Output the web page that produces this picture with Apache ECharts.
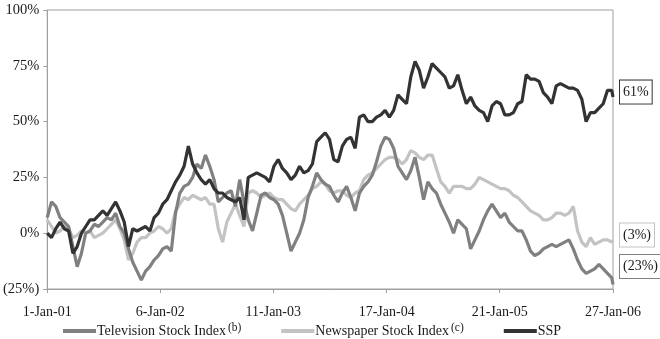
<!DOCTYPE html>
<html>
<head>
<meta charset="utf-8">
<script src="https://cdn.jsdelivr.net/npm/echarts@6/dist/echarts.min.js"></script>
<style>
  html, body { margin: 0; padding: 0; background: #ffffff; }
  #chart { width: 660px; height: 339px; }
</style>
</head>
<body>
<div id="chart"></div>
<script>
// Cumulative total return since 1-Jan-01, sampled every two weeks (last point 27-Jan-06)
const tickLabels = ['1-Jan-01', '6-Jan-02', '11-Jan-03', '17-Jan-04', '21-Jan-05', '27-Jan-06'];
const seriesNames = ['Television Stock Index', 'Newspaper Stock Index', 'SSP'];
const superscripts = { 'Television Stock Index': '(b)', 'Newspaper Stock Index': '(c)' };
const startLabel = '1-Jan-01';
const endLabel = '27-Jan-06';
const stepDays = 14;

const televisionIndex = [
  7, 14, 12, 7, 5, 3, -6, -15, -9, 0, 1, 4, 3, 5, 7, 6, 9, 3, 0, -7,
  -13, -17, -21, -17, -15, -12, -10, -7, -6, -8, 9, 18, 21, 22, 25, 31, 29, 35, 30, 24,
  14, 16, 18, 19, 12, 24, 14, 6, 1, 9, 17, 18, 16, 15, 13, 8, 0, -8, -4, 0,
  6, 16, 21, 27, 24, 22, 21, 17, 14, 18, 21, 16, 10, 18, 21, 23, 26, 32, 39, 43,
  42, 38, 30, 27, 24, 28, 34, 25, 15, 23, 20, 18, 13, 9, 5, 0, 6, 4, 2, -7,
  -3, 1, 6, 10, 13, 10, 7, 9, 5, 3, 1, 1, -3, -8, -10, -9, -7, -6, -5, -6,
  -5, -4, -3, -7, -12, -16, -18, -17, -16, -14, -16, -18, -20, -23
];
const newspaperIndex = [
  6, 3, 0, 1, 3, 2, -2, -1, 1, 0, 1, -2, -1, 0, 2, 4, 6, 2, -3, -12,
  -9, -4, -2, -2, 0, 1, 3, 2, 0, 2, 10, 13, 16, 15, 17, 16, 15, 16, 13, 13,
  2, -4, 5, 9, 13, 8, 3, 18, 19, 18, 16, 17, 18, 16, 15, 15, 13, 11, 10, 13,
  15, 17, 20, 21, 23, 22, 19, 18, 19, 19, 17, 16, 18, 19, 24, 26, 27, 29, 31, 33,
  34, 34, 33, 31, 33, 37, 36, 34, 33, 35, 35, 29, 23, 21, 18, 21, 21, 21, 20, 20,
  22, 25, 24, 23, 22, 21, 20, 20, 19, 17, 16, 14, 12, 10, 9, 8, 6, 6, 7, 9,
  9, 8, 9, 12, 1, -4, -6, -2, -5, -4, -3, -3, -4, -3
];
const sspReturn = [
  0, -2, 2, 5, 2, 1, -9, -6, 0, 3, 6, 6, 8, 10, 8, 11, 14, 10, 5, -6,
  2, 1, 2, 3, 1, 7, 9, 13, 15, 19, 23, 26, 30, 39, 31, 27, 24, 22, 24, 20,
  18, 18, 16, 15, 14, 16, 6, 25, 26, 27, 26, 25, 23, 30, 33, 29, 27, 24, 26, 30,
  27, 28, 31, 41, 43, 45, 42, 33, 32, 39, 42, 43, 38, 52, 53, 50, 50, 52, 53, 55,
  52, 55, 62, 60, 58, 70, 77, 73, 65, 70, 76, 74, 72, 70, 65, 66, 71, 64, 58, 61,
  57, 55, 54, 50, 57, 59, 58, 53, 53, 54, 58, 59, 71, 69, 69, 68, 63, 61, 58, 66,
  67, 66, 65, 65, 64, 60, 50, 54, 54, 56, 58, 64, 64, 61
];

const MONTHS = { Jan: 0, Feb: 1, Mar: 2, Apr: 3, May: 4, Jun: 5, Jul: 6, Aug: 7, Sep: 8, Oct: 9, Nov: 10, Dec: 11 };
const DAY_MS = 86400000;
function parseDay(s) {
  const [d, m, y] = s.split('-');
  return Date.UTC(2000 + Number(y), MONTHS[m], Number(d));
}
// The x axis counts days elapsed since the first observation
const startTime = parseDay(startLabel);
const toDay = t => Math.round((t - startTime) / DAY_MS);
const endDay = toDay(parseDay(endLabel));
const tickDays = tickLabels.map(s => toDay(parseDay(s)));

// Observation days: every two weeks, with the final close on the end date
const days = sspReturn.map((_, i) => (i === sspReturn.length - 1 ? endDay : stepDays * i));

function pct(v) {
  return v < 0 ? '(' + Math.abs(v) + '%)' : v + '%';
}

const FONT = 'Liberation Serif';
const TEXT = '#1a1a1a';
const AXIS = '#a0a0a0';

function makeSeries(name, values, color, labelOffset) {
  return {
    name: name,
    type: 'line',
    data: values.map((v, i) => [days[i], v]),
    showSymbol: false,
    symbol: 'none',
    lineStyle: { color: color, width: 3.2 },
    itemStyle: { color: color },
    endLabel: {
      show: true,
      formatter: p => pct(p.value[1]),
      fontFamily: FONT,
      fontSize: 14,
      color: TEXT,
      backgroundColor: '#ffffff',
      borderColor: color,
      borderWidth: 1,
      padding: [5, 3, 4, 3],
      distance: 7,
      offset: labelOffset
    }
  };
}

const chart = echarts.init(document.getElementById('chart'), null, { renderer: 'canvas' });
chart.setOption({
  animation: false,
  backgroundColor: '#ffffff',
  grid: {
    left: 44, right: 47, top: 10, bottom: 50,
    show: true, borderColor: AXIS, borderWidth: 1, backgroundColor: 'transparent'
  },
  legend: {
    data: seriesNames,
    left: 58,
    top: 317,
    itemWidth: 33,
    itemHeight: 4,
    itemGap: 40,
    icon: 'rect',
    formatter: name => superscripts[name]
      ? '{t|' + name + '}{s|' + superscripts[name] + '}'
      : '{t|' + name + '}',
    textStyle: {
      fontFamily: FONT, fontSize: 14, color: TEXT, padding: [0, 0, 0, -4],
      rich: {
        t: { fontFamily: FONT, fontSize: 14, color: TEXT },
        s: { fontFamily: FONT, fontSize: 11.5, color: TEXT, padding: [0, 0, 6, 2] }
      }
    }
  },
  xAxis: {
    type: 'value',
    min: 0,
    max: endDay,
    axisLine: { show: true, onZero: false, lineStyle: { color: AXIS, width: 1 } },
    axisTick: { show: true, customValues: tickDays, length: 4, lineStyle: { color: AXIS } },
    axisLabel: {
      customValues: tickDays,
      formatter: v => {
        const k = tickDays.indexOf(v);
        return k >= 0 ? tickLabels[k] : '';
      },
      fontFamily: FONT, fontSize: 14, color: TEXT, margin: 16
    },
    splitLine: { show: false }
  },
  yAxis: {
    type: 'value',
    min: -25,
    max: 100,
    interval: 25,
    axisLine: { show: true, lineStyle: { color: AXIS, width: 1 } },
    axisTick: { show: true, length: 4, lineStyle: { color: AXIS } },
    axisLabel: { formatter: pct, fontFamily: FONT, fontSize: 14.5, color: TEXT, margin: 8 },
    splitLine: { show: false }
  },
  series: [
    makeSeries('Newspaper Stock Index', newspaperIndex, '#c3c3c3', [0, -5]),
    makeSeries('Television Stock Index', televisionIndex, '#808080', [0, -18]),
    makeSeries('SSP', sspReturn, '#333333', [0, -5])
  ]
});
</script>
</body>
</html>
